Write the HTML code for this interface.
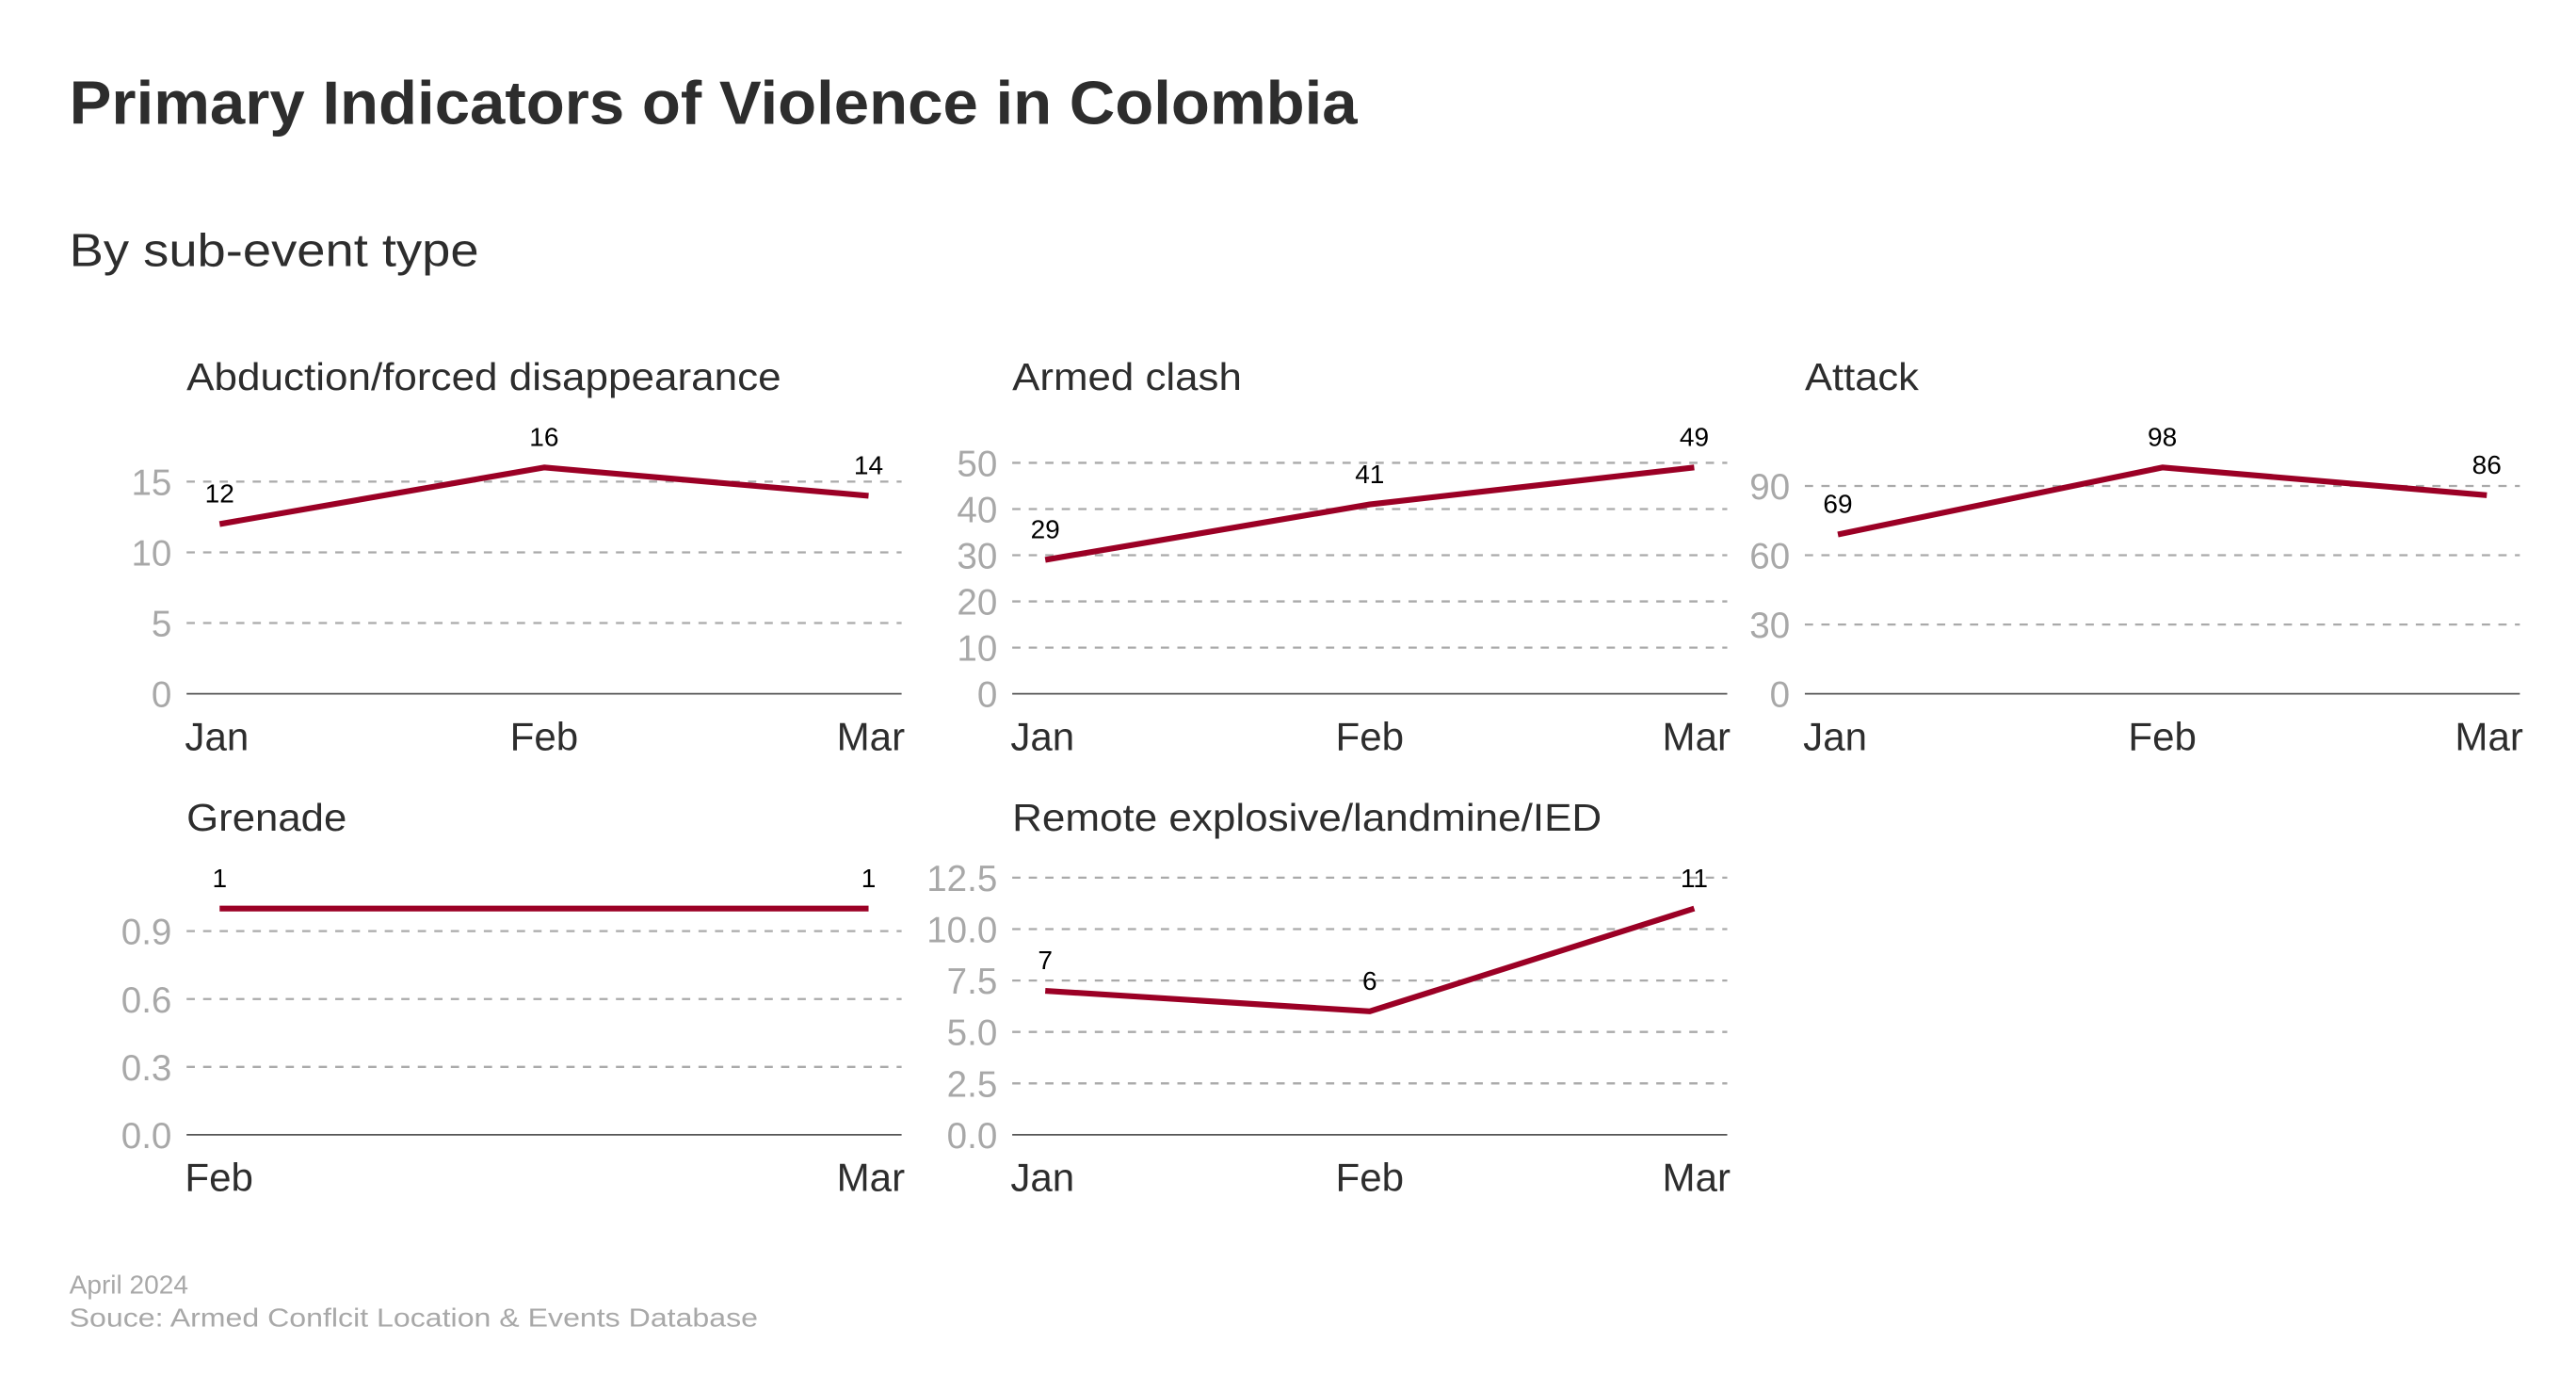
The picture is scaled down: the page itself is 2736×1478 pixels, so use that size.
<!DOCTYPE html>
<html><head><meta charset="utf-8"><style>
html,body{margin:0;padding:0;background:#fff;}
svg{display:block;font-family:"Liberation Sans",sans-serif;}
</style></head><body>
<svg id="chart" width="2736" height="1478" viewBox="0 0 1560 842.7" xmlns="http://www.w3.org/2000/svg">
<rect width="1560" height="843" fill="#fff"/>
<text x="42" y="75" font-size="37" font-weight="bold" fill="#2d2d2d" textLength="780" lengthAdjust="spacingAndGlyphs">Primary Indicators of Violence in Colombia</text>
<text x="42" y="161" font-size="28" fill="#2d2d2d" textLength="248" lengthAdjust="spacingAndGlyphs">By sub-event type</text>
<text x="42" y="783" font-size="16" fill="#a8a8a8">April 2024</text>
<text x="42" y="803" font-size="16" fill="#a8a8a8" textLength="417" lengthAdjust="spacingAndGlyphs">Souce: Armed Conflcit Location &amp; Events Database</text>
<g id="panels"></g>
</svg>
<script>
const titles = ["Abduction/forced disappearance","Armed clash","Attack","Grenade","Remote explosive/landmine/IED"];
const cats1 = ["Jan","Feb","Mar"];
const cats2 = ["Jan","Feb","Mar"];
const cats3 = ["Jan","Feb","Mar"];
const cats4 = ["Feb","Mar"];
const cats5 = ["Jan","Feb","Mar"];
const vals1 = [12,16,14];
const vals2 = [29,41,49];
const vals3 = [69,98,86];
const vals4 = [1,1];
const vals5 = [7,6,11];
const ticks1 = [0,5,10,15];
const ticks2 = [0,10,20,30,40,50];
const ticks3 = [0,30,60,90];
const ticks4 = [0,0.3,0.6,0.9];
const ticks5 = [0,2.5,5,7.5,10,12.5];
const tickFmt4 = ["0.0","0.3","0.6","0.9"];
const tickFmt5 = ["0.0","2.5","5.0","7.5","10.0","12.5"];

const NS = "http://www.w3.org/2000/svg";
const root = document.getElementById("panels");
function mk(tag, attrs, parent, text){
  const e = document.createElementNS(NS, tag);
  for (const k in attrs) e.setAttribute(k, attrs[k]);
  if (text !== undefined) e.textContent = text;
  parent.appendChild(e);
  return e;
}
const layout = [
  {x0:113,x1:546,y0:420,top:283,ty:236,tw:360},
  {x0:613,x1:1046,y0:420,top:283,ty:236,tw:139},
  {x0:1093,x1:1526,y0:420,top:283,ty:236,tw:69},
  {x0:113,x1:546,y0:687,top:550,ty:503,tw:97},
  {x0:613,x1:1046,y0:687,top:550,ty:503,tw:357}
];
const cats = [cats1,cats2,cats3,cats4,cats5];
const vals = [vals1,vals2,vals3,vals4,vals5];
const ticks = [ticks1,ticks2,ticks3,ticks4,ticks5];
const fmts = [null,null,null,tickFmt4,tickFmt5];

for (let p=0;p<5;p++){
  const L = layout[p];
  const g = mk("g",{},root);
  
  
  const vmax = Math.max(...vals[p]);
  const ys = v => L.y0 - (v / vmax) * (L.y0 - L.top);
  const n = cats[p].length;
  const xs = i => (L.x0+20) + i * ((L.x1-20) - (L.x0+20)) / (n-1);
  const t = mk("text",{x:L.x0,y:L.ty,"font-size":23,fill:"#2d2d2d",textLength:L.tw,lengthAdjust:"spacingAndGlyphs"},g,titles[p]);
  
  
  ticks[p].forEach((tv,i)=>{
    const y = ys(tv);
    if (tv === 0){
      const l = mk("line",{x1:L.x0,x2:L.x1,y1:y,y2:y,stroke:"#555","stroke-width":1},g);
      
      
    } else {
      const l = mk("line",{x1:L.x0,x2:L.x1,y1:y,y2:y,stroke:"#aaa","stroke-width":1.3,"stroke-dasharray":"5,5"},g);
      
      
    }
    const lab = fmts[p] ? fmts[p][i] : String(tv);
    const tl = mk("text",{x:L.x0-9,y:y+8,"font-size":22,fill:"#a8a8a8","text-anchor":"end"},g,lab);
    
    
  });
  cats[p].forEach((c,i)=>{
    let anchor="middle", x=xs(i);
    if (i===0){anchor="start"; x=L.x0-1;}
    else if (i===n-1){anchor="end"; x=L.x1+2;}
    const xl = mk("text",{x:x,y:L.y0+34,"font-size":24,fill:"#2d2d2d","text-anchor":anchor},g,c);
    
    
  });
  const pts = vals[p].map((v,i)=>xs(i)+","+ys(v)).join(" ");
  const line = mk("polyline",{points:pts,fill:"none",stroke:"#9b0025","stroke-width":3.5,"stroke-linejoin":"round"},g);
  
  
  vals[p].forEach((v,i)=>{
    const vl = mk("text",{x:xs(i),y:ys(v)-13,"font-size":16,fill:"#000","text-anchor":"middle"},g,String(v));
    
    
  });
}
</script>
</body></html>
